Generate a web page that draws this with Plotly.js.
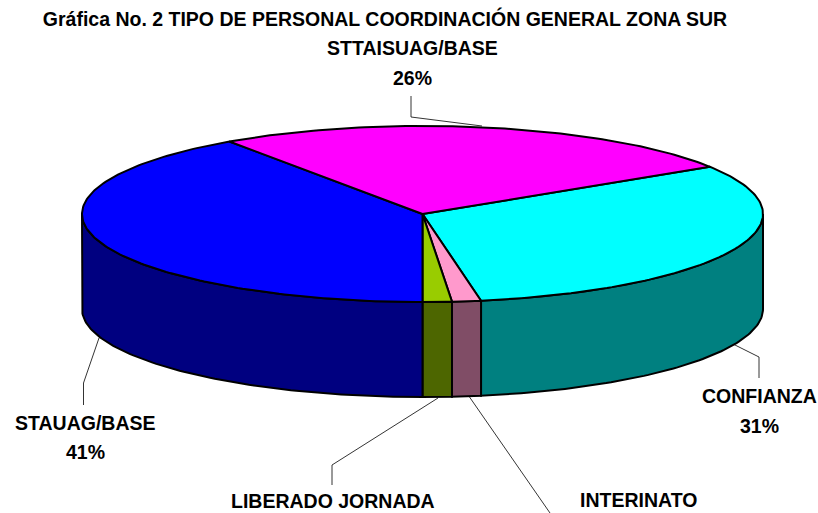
<!DOCTYPE html>
<html>
<head>
<meta charset="utf-8">
<script src="https://cdn.plot.ly/plotly-3.0.1.min.js"></script>
<style>
  html, body { margin: 0; padding: 0; background: #fff; }
  #chart { width: 818px; height: 513px; }
</style>
</head>
<body>
<div id="chart"></div>
<script>
// datos (porcentaje estimado de cada rebanada)
const categories = ["CONFIANZA", "INTERINATO", "LIBERADO JORNADA", "STAUAG/BASE", "STTAISUAG/BASE"];
const values = [31.25, 1.37, 1.38, 40.4, 25.6];
const percentLabels = ["31%", "", "", "41%", "26%"];

const topColors = ["#00FFFF", "#FF99CC", "#99CC00", "#0000FF", "#FF00FF"];
const sideColors = ["#008080", "#804D66", "#4D6600", "#000080", "#800080"];

// geometria del pastel en pixeles
const cx = 422.5, cy = 214, rx = 340.5, ry = 88, depth = 95;
const startAngle = 57.6;

function arc(a0, a1, dy) {
    const xs = [], ys = [];
    const n = Math.max(2, Math.ceil(Math.abs(a1 - a0)));
    for (let i = 0; i <= n; i++) {
        const t = (a0 + (a1 - a0) * i / n) * Math.PI / 180;
        xs.push(cx + rx * Math.sin(t));
        ys.push(cy - ry * Math.cos(t) + dy);
    }
    return { x: xs, y: ys };
}

const total = values.reduce((a, b) => a + b, 0);
const sideTraces = [], topTraces = [];
let angle = startAngle;

values.forEach((v, i) => {
    const end = angle + v / total * 360;

    const edge = arc(angle, end, 0);
    topTraces.push({
        x: [cx, ...edge.x, cx],
        y: [cy, ...edge.y, cy],
        name: categories[i],
        mode: "lines",
        type: "scatter",
        fill: "toself",
        fillcolor: topColors[i],
        line: { color: "#000", width: 2 },
        hoverinfo: "name"
    });

    // solo se ve la pared frontal, entre 90 y 270 grados
    const a0 = Math.max(angle, 90), a1 = Math.min(end, 270);
    if (a1 > a0) {
        const up = arc(a0, a1, 0);
        const down = arc(a1, a0, depth);
        sideTraces.push({
            x: [...up.x, ...down.x, up.x[0]],
            y: [...up.y, ...down.y, up.y[0]],
            name: categories[i],
            mode: "lines",
            type: "scatter",
            fill: "toself",
            fillcolor: sideColors[i],
            line: { color: "#000", width: 2 },
            hoverinfo: "name"
        });
    }
    angle = end;
});

// lineas guia de las etiquetas
const leaders = [
    { x: [411, 411, 482], y: [96, 117, 126] },
    { x: [733, 759, 759], y: [344, 357, 378] },
    { x: [99, 83.5, 83.5], y: [338, 383, 405] },
    { x: [438, 332, 332], y: [398, 465, 485] },
    { x: [469.5, 550], y: [397, 513] }
];
const leaderTraces = leaders.map(l => ({
    x: l.x,
    y: l.y,
    mode: "lines",
    type: "scatter",
    line: { color: "#000", width: 0.8 },
    hoverinfo: "skip"
}));

const labelFont = { family: "Liberation Sans, Arial, sans-serif", size: 19.5, color: "#000" };
function label(text, x, y) {
    return { text: "<b>" + text + "</b>", x: x, y: y, xref: "x", yref: "y", showarrow: false,
             xanchor: "center", yanchor: "middle", font: labelFont };
}

const annotations = [
    label(categories[4], 412, 48), label(percentLabels[4], 412, 78),
    label(categories[0], 759, 396), label(percentLabels[0], 759, 426),
    label(categories[3], 85, 423), label(percentLabels[3], 85, 452),
    label(categories[2], 333, 501),
    label(categories[1], 638, 500)
];

const layout = {
    title: {
        text: "<b>Gráfica No. 2 TIPO DE PERSONAL COORDINACIÓN GENERAL ZONA SUR</b>",
        x: 385 / 818, y: 1 - 19 / 513, xanchor: "center", yanchor: "middle",
        font: { family: "Liberation Sans, Arial, sans-serif", size: 19.5, color: "#000" }
    },
    width: 818,
    height: 513,
    margin: { l: 0, r: 0, t: 0, b: 0 },
    paper_bgcolor: "#fff",
    plot_bgcolor: "#fff",
    showlegend: false,
    xaxis: { range: [0, 818], visible: false, fixedrange: true },
    yaxis: { range: [513, 0], visible: false, fixedrange: true },
    annotations: annotations
};

Plotly.newPlot("chart", [...leaderTraces, ...sideTraces, ...topTraces], layout, { displayModeBar: false });
</script>
</body>
</html>
